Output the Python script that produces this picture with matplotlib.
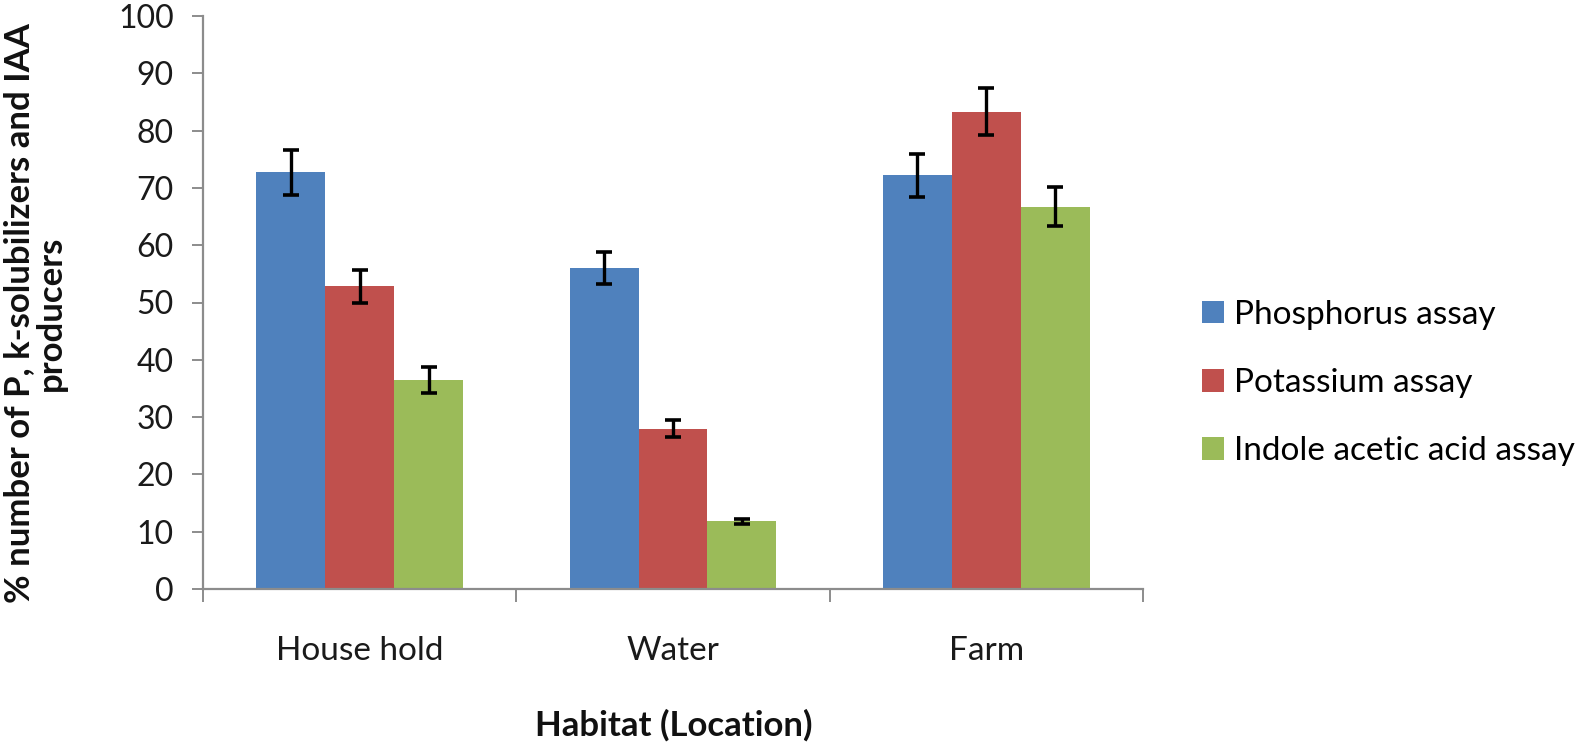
import matplotlib
matplotlib.use("Agg")
import matplotlib.pyplot as plt
import numpy as np
from matplotlib.patches import Patch

plt.rcParams['font.family'] = ['Lato', 'DejaVu Sans']

categories = ["House hold", "Water", "Farm"]
series_names = ["Phosphorus assay", "Potassium assay", "Indole acetic acid assay"]
phosphorus = [72.7, 56.0, 72.2]
potassium = [52.8, 28.0, 83.3]
iaa = [36.5, 11.8, 66.7]
phosphorus_err = [3.9, 2.8, 3.8]
potassium_err = [2.8, 1.5, 4.1]
iaa_err = [2.3, 0.5, 3.4]
yticks = [0, 10, 20, 30, 40, 50, 60, 70, 80, 90, 100]

colors = ["#4F81BD", "#C0504D", "#9BBB59"]

W, H = 1592, 746
fig = plt.figure(figsize=(W / 100, H / 100), dpi=100)
ax = fig.add_axes([203 / W, 1 - 589 / H, (1143 - 203) / W, (589 - 16) / H])

x = np.arange(len(categories))
bw = 0.22
values = [phosphorus, potassium, iaa]
errs = [phosphorus_err, potassium_err, iaa_err]
for i, (vals, e, c) in enumerate(zip(values, errs, colors)):
    pos = x + (i - 1) * bw
    ax.bar(pos, vals, width=bw, color=c, edgecolor='none', zorder=2)
    ax.errorbar(pos, vals, yerr=e, fmt='none', ecolor='black', elinewidth=2.4,
                capsize=6, capthick=2.6, zorder=3)

ax.set_xlim(-0.5, 2.5)
ax.set_ylim(0, 100)
ax.set_yticks(yticks)
ax.set_xticks(x)
ax.set_xticklabels(categories)
ax.set_xticks([-0.5, 0.5, 1.5, 2.5], minor=True)

for s in ['top', 'right']:
    ax.spines[s].set_visible(False)
for s in ['left', 'bottom']:
    ax.spines[s].set_color('#8c8c8c')
    ax.spines[s].set_linewidth(1.6)

ax.tick_params(axis='y', direction='out', length=8, width=1.4, color='#8c8c8c',
               labelsize=23, pad=13, labelcolor='#1a1a1a')
ax.tick_params(axis='x', which='major', length=0, labelsize=24, pad=34, labelcolor='#1a1a1a')
ax.tick_params(axis='x', which='minor', direction='out', length=9, width=1.4, color='#8c8c8c')

fig.text(674 / W, 1 - 725 / H, "Habitat (Location)", ha='center', va='center',
         fontsize=25, fontweight='bold', color='#111111')
fig.text(35 / W, 1 - 313 / H, "% number of P, k-solubilizers and IAA\nproducers",
         rotation=90, ha='center', va='center', multialignment='center',
         fontsize=25, fontweight='bold', color='#111111', linespacing=1.0)

handles = [Patch(facecolor=c, edgecolor='none') for c in colors]
fig.legend(handles, series_names, loc='center left', bbox_to_anchor=(1202 / W, 1 - 383 / H),
           frameon=False, fontsize=24, handlelength=0.66, handleheight=0.66,
           handletextpad=0.3, labelspacing=1.15, borderpad=0, borderaxespad=0)

fig.savefig("out.png", dpi=100, facecolor='white')
